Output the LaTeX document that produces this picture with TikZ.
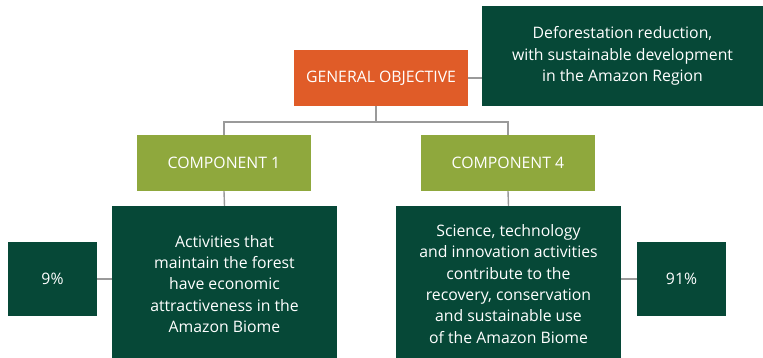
\documentclass[tikz,border=0pt]{standalone}
\usepackage{fontspec}
\setmainfont{Open Sans}
\begin{document}
\definecolor{deepgreen}{HTML}{064837}
\definecolor{olive}{HTML}{8FA83D}
\definecolor{rust}{HTML}{E05C28}
\definecolor{linkgray}{HTML}{9A9A9A}
\begin{tikzpicture}[x=1pt,y=-1pt,
  box/.style={rectangle, inner sep=0pt, text=white, align=center,
    font=\fontsize{15.8}{21.3}\selectfont},
  goalbox/.style={box, fill=rust, minimum width=174pt, minimum height=56pt},
  compbox/.style={box, fill=olive, minimum width=174pt, minimum height=56pt},
  aimbox/.style={box, fill=deepgreen},
  sharebox/.style={box, fill=deepgreen, minimum width=89pt, minimum height=74pt},
  link/.style={draw=linkgray, line width=1.4pt}]
\useasboundingbox (0,0) rectangle (763,358);

% top level
\node[goalbox] (go) at (381,78) {GENERAL OBJECTIVE};
\node[aimbox, minimum width=281pt, minimum height=100pt] (def) at (622.5,56)
  {Deforestation reduction,\\with sustainable development\\in the Amazon Region};

% components
\node[compbox] (c1) at (224,163) {COMPONENT 1};
\node[compbox] (c4) at (508,163) {COMPONENT 4};

% component outcomes
\node[aimbox, minimum width=225pt, minimum height=156pt] (act) at (224.5,284)
  {Activities that\\maintain the forest\\have economic\\attractiveness in the\\Amazon Biome};
\node[aimbox, minimum width=225pt, minimum height=156pt] (sci) at (508.5,284)
  {Science, technology\\and innovation activities\\contribute to the\\recovery, conservation\\and sustainable use\\of the Amazon Biome};

% budget shares
\node[sharebox] (p9) at (52.5,279) {9\%};
\node[sharebox] (p91) at (681.5,279) {91\%};

% connectors
\coordinate (j) at (376,122);
\draw[link] (go.east) -- (go.east -| def.west);
\draw[link] (go.south -| j) -- (j);
\draw[link] (j) -| (c1.north);
\draw[link] (j) -| (c4.north);
\draw[link] (c1.south) -- (act.north);
\draw[link] (c4.south) -- (sci.north);
\draw[link] (p9.east) -- (p9.east -| act.west);
\draw[link] (p91.west) -- (p91.west -| sci.east);
\end{tikzpicture}
\end{document}
